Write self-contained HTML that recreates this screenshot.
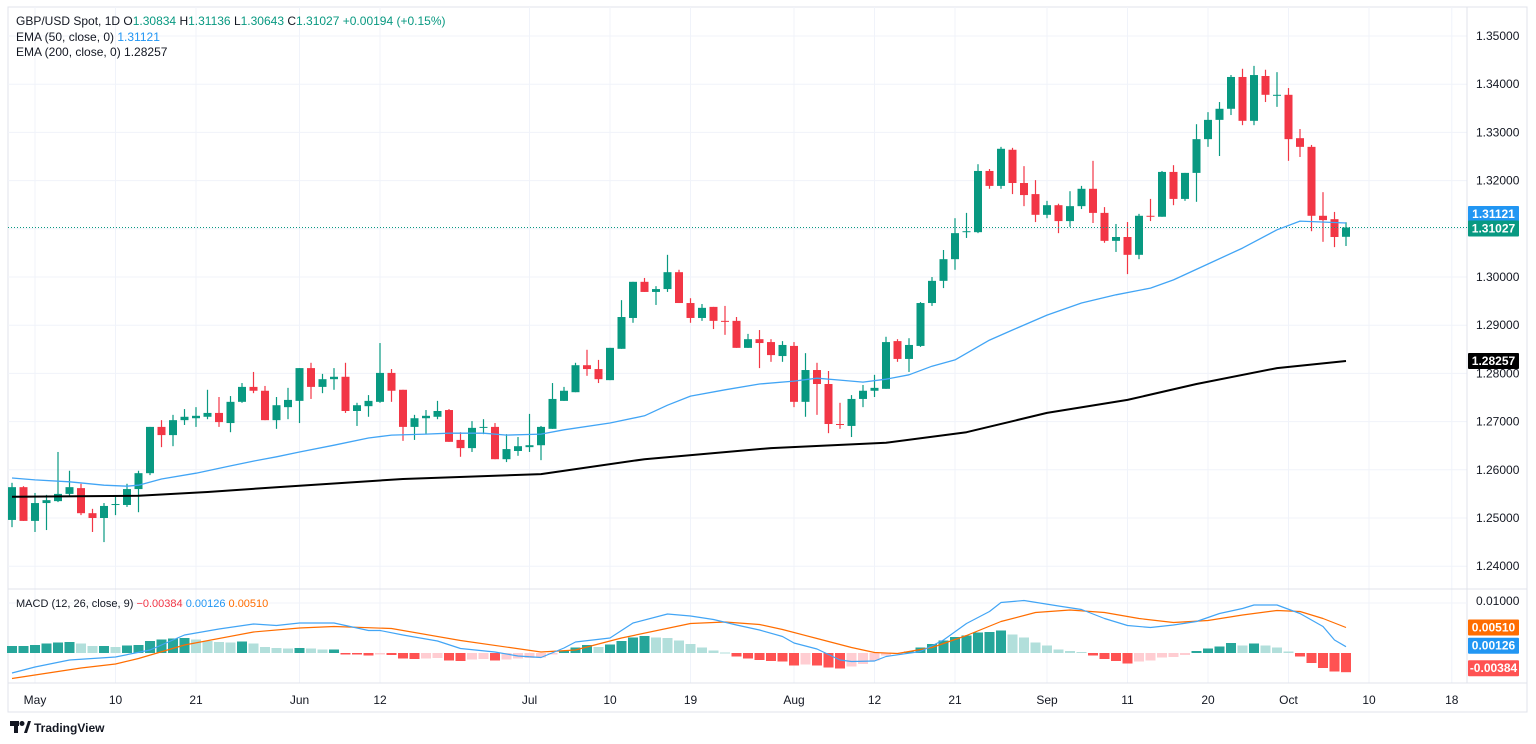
<!DOCTYPE html>
<html><head><meta charset="utf-8"><style>
body{margin:0;background:#fff;}
svg{display:block;font-family:"Liberation Sans",sans-serif;}
</style></head><body>
<svg id="c" width="1536" height="744" viewBox="0 0 1536 744" xmlns="http://www.w3.org/2000/svg">
<rect x="8" y="7" width="1519" height="705" fill="#fff" stroke="#e0e3eb"/>
<g id="grid"></g>
<g id="candles"></g>
<g id="lines"></g>
<g id="macd"></g>
<g id="axes"></g>
<line x1="8" y1="589" x2="1527" y2="589" stroke="#e0e3eb"/>
<line x1="8" y1="683" x2="1527" y2="683" stroke="#e0e3eb"/>
<text x="16" y="25" font-size="12" fill="#131722">GBP/USD Spot, 1D  O<tspan fill="#089981">1.30834</tspan>  H<tspan fill="#089981">1.31136</tspan>  L<tspan fill="#089981">1.30643</tspan>  C<tspan fill="#089981">1.31027</tspan>  <tspan fill="#089981">+0.00194 (+0.15%)</tspan></text>
<text x="16" y="41" font-size="12" fill="#131722">EMA (50, close, 0)  <tspan fill="#2196f3">1.31121</tspan></text>
<text x="16" y="56" font-size="12" fill="#131722">EMA (200, close, 0)  1.28257</text>
<text x="16" y="607" font-size="11" fill="#131722">MACD (12, 26, close, 9)  <tspan fill="#f23645">−0.00384</tspan>  <tspan fill="#2196f3">0.00126</tspan>  <tspan fill="#ff6d00">0.00510</tspan></text>
<g>
<rect x="10" y="721" width="9" height="5" fill="#131722"/><rect x="14" y="721" width="4" height="12" fill="#131722"/><circle cx="22" cy="723.5" r="2.5" fill="#131722"/><path d="M24 733 L28 721 L31 721 L27 733 Z" fill="#131722"/>
<text x="34" y="732" font-size="12" font-weight="bold" fill="#131722">TradingView</text>
</g>
</svg>
<script>
const opens=[1.2496,1.2564,1.2494,1.2531,1.2535,1.2550,1.2562,1.2510,1.2500,1.2527,
1.2527,1.2560,1.2593,1.2689,1.2672,1.2703,1.2707,1.2710,1.2718,1.2697,
1.2741,1.2772,1.2764,1.2703,1.2730,1.2743,1.2811,1.2772,1.2788,1.2793,
1.2722,1.2732,1.2741,1.2801,1.2766,1.2689,1.2707,1.2710,1.2724,1.2662,
1.2645,1.2687,1.2689,1.2622,1.2639,1.2647,1.2651,1.2685,1.2743,1.2761,
1.2817,1.2809,1.2786,1.2851,1.2915,1.2990,1.2969,1.2975,1.3010,1.2946,
1.2915,1.2938,1.2909,1.2909,1.2853,1.2871,1.2865,1.2836,1.2857,1.2741,
1.2807,1.2778,1.2695,1.2691,1.2747,1.2764,1.2768,1.2867,1.2830,1.2857,
1.2946,1.2992,1.3037,1.3093,1.3093,1.3220,1.3189,1.3264,1.3195,1.3172,
1.3129,1.3149,1.3116,1.3147,1.3183,1.3133,1.3075,1.3083,1.3046,1.3127,
1.3125,1.3218,1.3162,1.3216,1.3286,1.3326,1.3349,1.3415,1.3324,1.3417,
1.3377,1.3378,1.3288,1.3270,1.3127,1.3120,1.30834];
const highs=[1.2573,1.2566,1.2552,1.2548,1.2637,1.2598,1.2571,1.2519,1.2531,1.2544,
1.2571,1.2598,1.2689,1.2703,1.2714,1.2726,1.2730,1.2766,1.2751,1.2753,
1.2780,1.2803,1.2774,1.2751,1.2770,1.2811,1.2822,1.2799,1.2811,1.2822,
1.2739,1.2755,1.2863,1.2809,1.2766,1.2714,1.2724,1.2743,1.2726,1.2678,
1.2701,1.2705,1.2697,1.2674,1.2668,1.2716,1.2691,1.2780,1.2772,1.2822,
1.2849,1.2828,1.2853,1.2952,1.2990,1.2998,1.2981,1.3046,1.3015,1.2956,
1.2944,1.2938,1.2940,1.2917,1.2882,1.2890,1.2871,1.2867,1.2865,1.2842,
1.2822,1.2805,1.2739,1.2755,1.2776,1.2797,1.2876,1.2871,1.2873,1.2948,
1.3000,1.3056,1.3122,1.3133,1.3234,1.3224,1.3270,1.3268,1.3230,1.3201,
1.3158,1.3152,1.3178,1.3189,1.3241,1.3145,1.3110,1.3114,1.3131,1.3162,
1.3220,1.3232,1.3216,1.3317,1.3342,1.3363,1.3419,1.3432,1.3438,1.3430,
1.3425,1.3392,1.3307,1.3274,1.3176,1.3135,1.31136];
const lows=[1.2481,1.2494,1.2471,1.2475,1.2533,1.2546,1.2506,1.2471,1.2450,1.2506,
1.2523,1.2512,1.2589,1.2647,1.2649,1.2693,1.2689,1.2705,1.2689,1.2678,
1.2739,1.2759,1.2703,1.2685,1.2705,1.2697,1.2747,1.2759,1.2766,1.2718,
1.2691,1.2710,1.2739,1.2741,1.2660,1.2662,1.2674,1.2705,1.2658,1.2627,
1.2637,1.2674,1.2622,1.2616,1.2629,1.2637,1.2620,1.2685,1.2743,1.2761,
1.2795,1.2780,1.2786,1.2851,1.2905,1.2969,1.2942,1.2969,1.2946,1.2905,
1.2909,1.2892,1.2880,1.2853,1.2853,1.2811,1.2824,1.2824,1.2730,1.2710,
1.2714,1.2676,1.2685,1.2668,1.2730,1.2751,1.2768,1.2824,1.2803,1.2855,
1.2940,1.2977,1.3015,1.3081,1.3091,1.3183,1.3183,1.3172,1.3147,1.3114,
1.3122,1.3091,1.3104,1.3141,1.3112,1.3071,1.3052,1.3006,1.3037,1.3116,
1.3125,1.3149,1.3158,1.3156,1.3270,1.3251,1.3336,1.3315,1.3315,1.3363,
1.3353,1.3241,1.3249,1.3095,1.3073,1.3062,1.30643];
const closes=[1.2564,1.2494,1.2531,1.2537,1.2550,1.2564,1.2510,1.2500,1.2525,1.2529,
1.2560,1.2593,1.2689,1.2672,1.2703,1.2710,1.2712,1.2718,1.2699,1.2741,
1.2772,1.2764,1.2703,1.2734,1.2745,1.2811,1.2772,1.2788,1.2793,1.2722,
1.2734,1.2743,1.2801,1.2764,1.2689,1.2707,1.2712,1.2722,1.2658,1.2645,
1.2687,1.2689,1.2622,1.2643,1.2649,1.2651,1.2689,1.2747,1.2764,1.2817,
1.2809,1.2788,1.2853,1.2917,1.2990,1.2969,1.2975,1.3010,1.2946,1.2915,
1.2936,1.2909,1.2908,1.2853,1.2871,1.2863,1.2838,1.2859,1.2741,1.2807,
1.2778,1.2695,1.2693,1.2747,1.2764,1.2770,1.2865,1.2830,1.2859,1.2946,
1.2992,1.3037,1.3091,1.3095,1.3220,1.3189,1.3266,1.3195,1.3170,1.3129,
1.3149,1.3116,1.3147,1.3183,1.3133,1.3075,1.3083,1.3046,1.3127,1.3125,
1.3218,1.3162,1.3216,1.3286,1.3326,1.3349,1.3415,1.3324,1.3419,1.3378,
1.3378,1.3286,1.3270,1.3127,1.3118,1.3083,1.31027];
const ema50Idx=[0,2,5,8,10,11,13,16,19,21,23,25,28,31,33,36,38,41,43,46,48,52,55,57,59,62,65,68,70,72,74,76,78,80,82,85,87,90,93,96,99,101,104,107,110,112,116];
const ema50Val=[1.2583,1.2579,1.2575,1.2568,1.2566,1.2568,1.2581,1.2593,1.2608,1.2618,1.2627,1.2637,1.2651,1.2666,1.2672,1.2674,1.2676,1.2676,1.2672,1.2674,1.2683,1.2697,1.2712,1.2734,1.2753,1.2766,1.2778,1.2784,1.2790,1.2786,1.2782,1.2788,1.2797,1.2815,1.2828,1.2869,1.2890,1.2921,1.2946,1.2963,1.2977,1.2994,1.3027,1.3060,1.3098,1.3116,1.31121];
const ema200Idx=[0,11,17,23,34,46,55,66,76,83,90,97,103,110,116];
const ema200Val=[1.2544,1.2546,1.2554,1.2564,1.2581,1.2591,1.2622,1.2645,1.2656,1.2678,1.2718,1.2745,1.2778,1.2811,1.28257];
const histVals=[0.0014,0.0014,0.0016,0.0019,0.0021,0.0022,0.0019,0.0014,0.0014,0.0012,
0.0015,0.0016,0.0024,0.0027,0.0029,0.0030,0.0027,0.0024,0.0022,0.0021,
0.0023,0.0019,0.0012,0.0010,0.0009,0.0010,0.0009,0.0007,0.0007,-0.0003,
-0.0003,-0.0005,-0.0003,-0.0004,-0.0011,-0.0012,-0.0011,-0.0010,-0.0015,-0.0016,
-0.0013,-0.0012,-0.0015,-0.0013,-0.0011,-0.0010,-0.0009,-0.0003,0.0004,0.0011,
0.0016,0.0012,0.0017,0.0024,0.0031,0.0034,0.0031,0.0030,0.0025,0.0018,
0.0011,0.0005,0.0001,-0.0007,-0.0011,-0.0014,-0.0016,-0.0017,-0.0025,-0.0023,
-0.0025,-0.0029,-0.0031,-0.0027,-0.0022,-0.0015,-0.0005,-0.0002,0.0003,0.0011,
0.0018,0.0025,0.0032,0.0035,0.0041,0.0042,0.0045,0.0037,0.0031,0.0021,
0.0015,0.0007,0.0004,0.0002,-0.0005,-0.0012,-0.0016,-0.0021,-0.0017,-0.0015,
-0.0009,-0.0008,-0.0004,0.0004,0.0009,0.0013,0.0020,0.0015,0.0019,0.0015,
0.0011,0.0003,-0.0007,-0.0020,-0.0030,-0.0037,-0.00384];
const macdIdx=[0,2,5,9,12,15,18,21,23,25,28,31,32,34,37,39,42,44,46,48,49,52,54,57,59,61,63,65,67,68,70,72,73,75,76,79,81,83,85,86,88,91,93,95,97,99,101,103,105,107,108,110,112,114,115,116];
const macdVal=[-0.0040,-0.0028,-0.0014,-0.0008,0.0006,0.0036,0.0048,0.0058,0.0055,0.0060,0.0060,0.0045,0.0045,0.0036,0.0024,0.0009,0.0002,-0.0006,-0.0009,0.0010,0.0022,0.0030,0.0060,0.0078,0.0074,0.0067,0.0056,0.0046,0.0033,0.0020,0.0008,-0.0014,-0.0017,-0.0016,-0.0007,0.0003,0.0026,0.0059,0.0083,0.0101,0.0105,0.0094,0.0087,0.0069,0.0055,0.0051,0.0056,0.0063,0.0079,0.0089,0.0096,0.0096,0.0079,0.0053,0.0026,0.00126];
const signalIdx=[0,6,9,11,15,21,25,28,33,39,46,49,53,59,62,65,67,70,73,75,77,80,83,86,89,92,95,98,101,104,107,110,112,114,116];
const signalVal=[-0.0051,-0.0030,-0.0022,-0.0011,0.0016,0.0042,0.0050,0.0053,0.0049,0.0025,0.0002,0.0006,0.0030,0.0059,0.0062,0.0057,0.0047,0.0029,0.0011,0.0001,-0.0001,0.0011,0.0035,0.0063,0.0081,0.0086,0.0081,0.0069,0.0061,0.0065,0.0076,0.0085,0.0083,0.0069,0.0051];
const priceTicks=[1.24,1.25,1.26,1.27,1.28,1.29,1.30,1.31,1.32,1.33,1.34,1.35];
const dateLabels=["May","10","21","Jun","12","Jul","10","19","Aug","12","21","Sep","11","20","Oct","10","18"];
const dateIdx=[2,9,16,25,32,45,52,59,68,75,82,90,97,104,111,118,125.2];

const NS="http://www.w3.org/2000/svg";
const X=i=>12+i*11.5;
const YP=p=>277-(p-1.30)*4820;
const YM=v=>653-v*5000;
function mk(tag,attrs,parent,txt){const e=document.createElementNS(NS,tag);for(const k in attrs)e.setAttribute(k,attrs[k]);if(txt!==undefined)e.textContent=txt;parent.appendChild(e);return e;}
const grid=document.getElementById('grid'),cg=document.getElementById('candles'),lg=document.getElementById('lines'),mg=document.getElementById('macd'),ax=document.getElementById('axes');

priceTicks.forEach(p=>{
  const l=mk('line',{x1:8,x2:1467,y1:YP(p),y2:YP(p),stroke:'#f0f3fa'},grid);
  
  
  const t=mk('text',{x:1476,y:YP(p)+4,'font-size':12,fill:'#131722'},ax,p.toFixed(5));
  
  
});
dateIdx.forEach((d,k)=>{
  const l=mk('line',{x1:X(d),x2:X(d),y1:7,y2:683,stroke:'#f0f3fa'},grid);
  
  
  const t=mk('text',{x:X(d),y:704,'font-size':12,fill:'#131722','text-anchor':'middle'},ax,dateLabels[k]);
  
  
});
const l1=mk('line',{x1:1467,x2:1467,y1:7,y2:683,stroke:'#e0e3eb'},grid);


const mz=mk('line',{x1:8,x2:1467,y1:YM(0.01),y2:YM(0.01),stroke:'#f0f3fa'},grid);



opens.forEach((o,i)=>{
  const c=closes[i],up=c>=o,col=up?'#089981':'#f23645';
  const g=mk('g',{},cg);
  
  
  mk('line',{x1:X(i),x2:X(i),y1:YP(highs[i]),y2:YP(lows[i]),stroke:col,'stroke-width':1.2},g);
  const top=YP(Math.max(o,c)),bot=YP(Math.min(o,c));
  mk('rect',{x:X(i)-4,y:top,width:8,height:Math.max(1,bot-top),fill:col},g);
});
function poly(idx,vals,yf,col,w,name,parent){
  const pts=idx.map((d,k)=>X(d).toFixed(1)+','+yf(vals[k]).toFixed(1)).join(' ');
  const p=mk('polyline',{points:pts,fill:'none',stroke:col,'stroke-width':w,'stroke-linejoin':'round'},parent);
  
  
}
const lp=mk('line',{x1:8,x2:1467,y1:YP(closes[closes.length-1]),y2:YP(closes[closes.length-1]),stroke:'#089981','stroke-dasharray':'1 2'},lg);


poly(ema50Idx,ema50Val,YP,'#42a5f5',1.3,'ema50-line',lg);
poly(ema200Idx,ema200Val,YP,'#000',2,'ema200-line',lg);

histVals.forEach((v,i)=>{
  const prev=i>0?histVals[i-1]:v;
  let col;
  if(v>=0)col=v>=prev?'#26a69a':'#b2dfdb';else col=v<=prev?'#ff5252':'#ffcdd2';
  const y0=YM(0),y1=YM(v);
  const r=mk('rect',{x:X(i)-5,y:Math.min(y0,y1),width:10,height:Math.max(1,Math.abs(y1-y0)),fill:col},mg);
  
  
});
poly(signalIdx,signalVal,YM,'#ff6d00',1.2,'macd-signal-line',mg);
poly(macdIdx,macdVal,YM,'#42a5f5',1.2,'macd-line',mg);
const mt=mk('text',{x:1476,y:YM(0.01)+2,'font-size':12,fill:'#131722'},ax,'0.01000');



function tag(y,txt,bg,name){
  const g=mk('g',{},ax);
  
  
  mk('rect',{x:1468,y:y-8,width:51,height:16,fill:bg,rx:1},g);
  mk('text',{x:1493.5,y:y+4,'font-size':12,'font-weight':'bold',fill:'#fff','text-anchor':'middle'},g,txt);
}
tag(YP(ema50Val[ema50Val.length-1])-9,'1.31121','#2196f3','ema50-price-tag');
tag(YP(closes[closes.length-1])+1,'1.31027','#089981','last-price-tag');
tag(YP(ema200Val[ema200Val.length-1]),'1.28257','#000','ema200-price-tag');
tag(YM(signalVal[signalVal.length-1]),'0.00510','#ff6d00','signal-value-tag');
tag(YM(macdVal[macdVal.length-1])-1,'0.00126','#2196f3','macd-value-tag');
tag(YM(histVals[histVals.length-1])-4,'-0.00384','#ff5252','histogram-value-tag');
</script>
</body></html>
